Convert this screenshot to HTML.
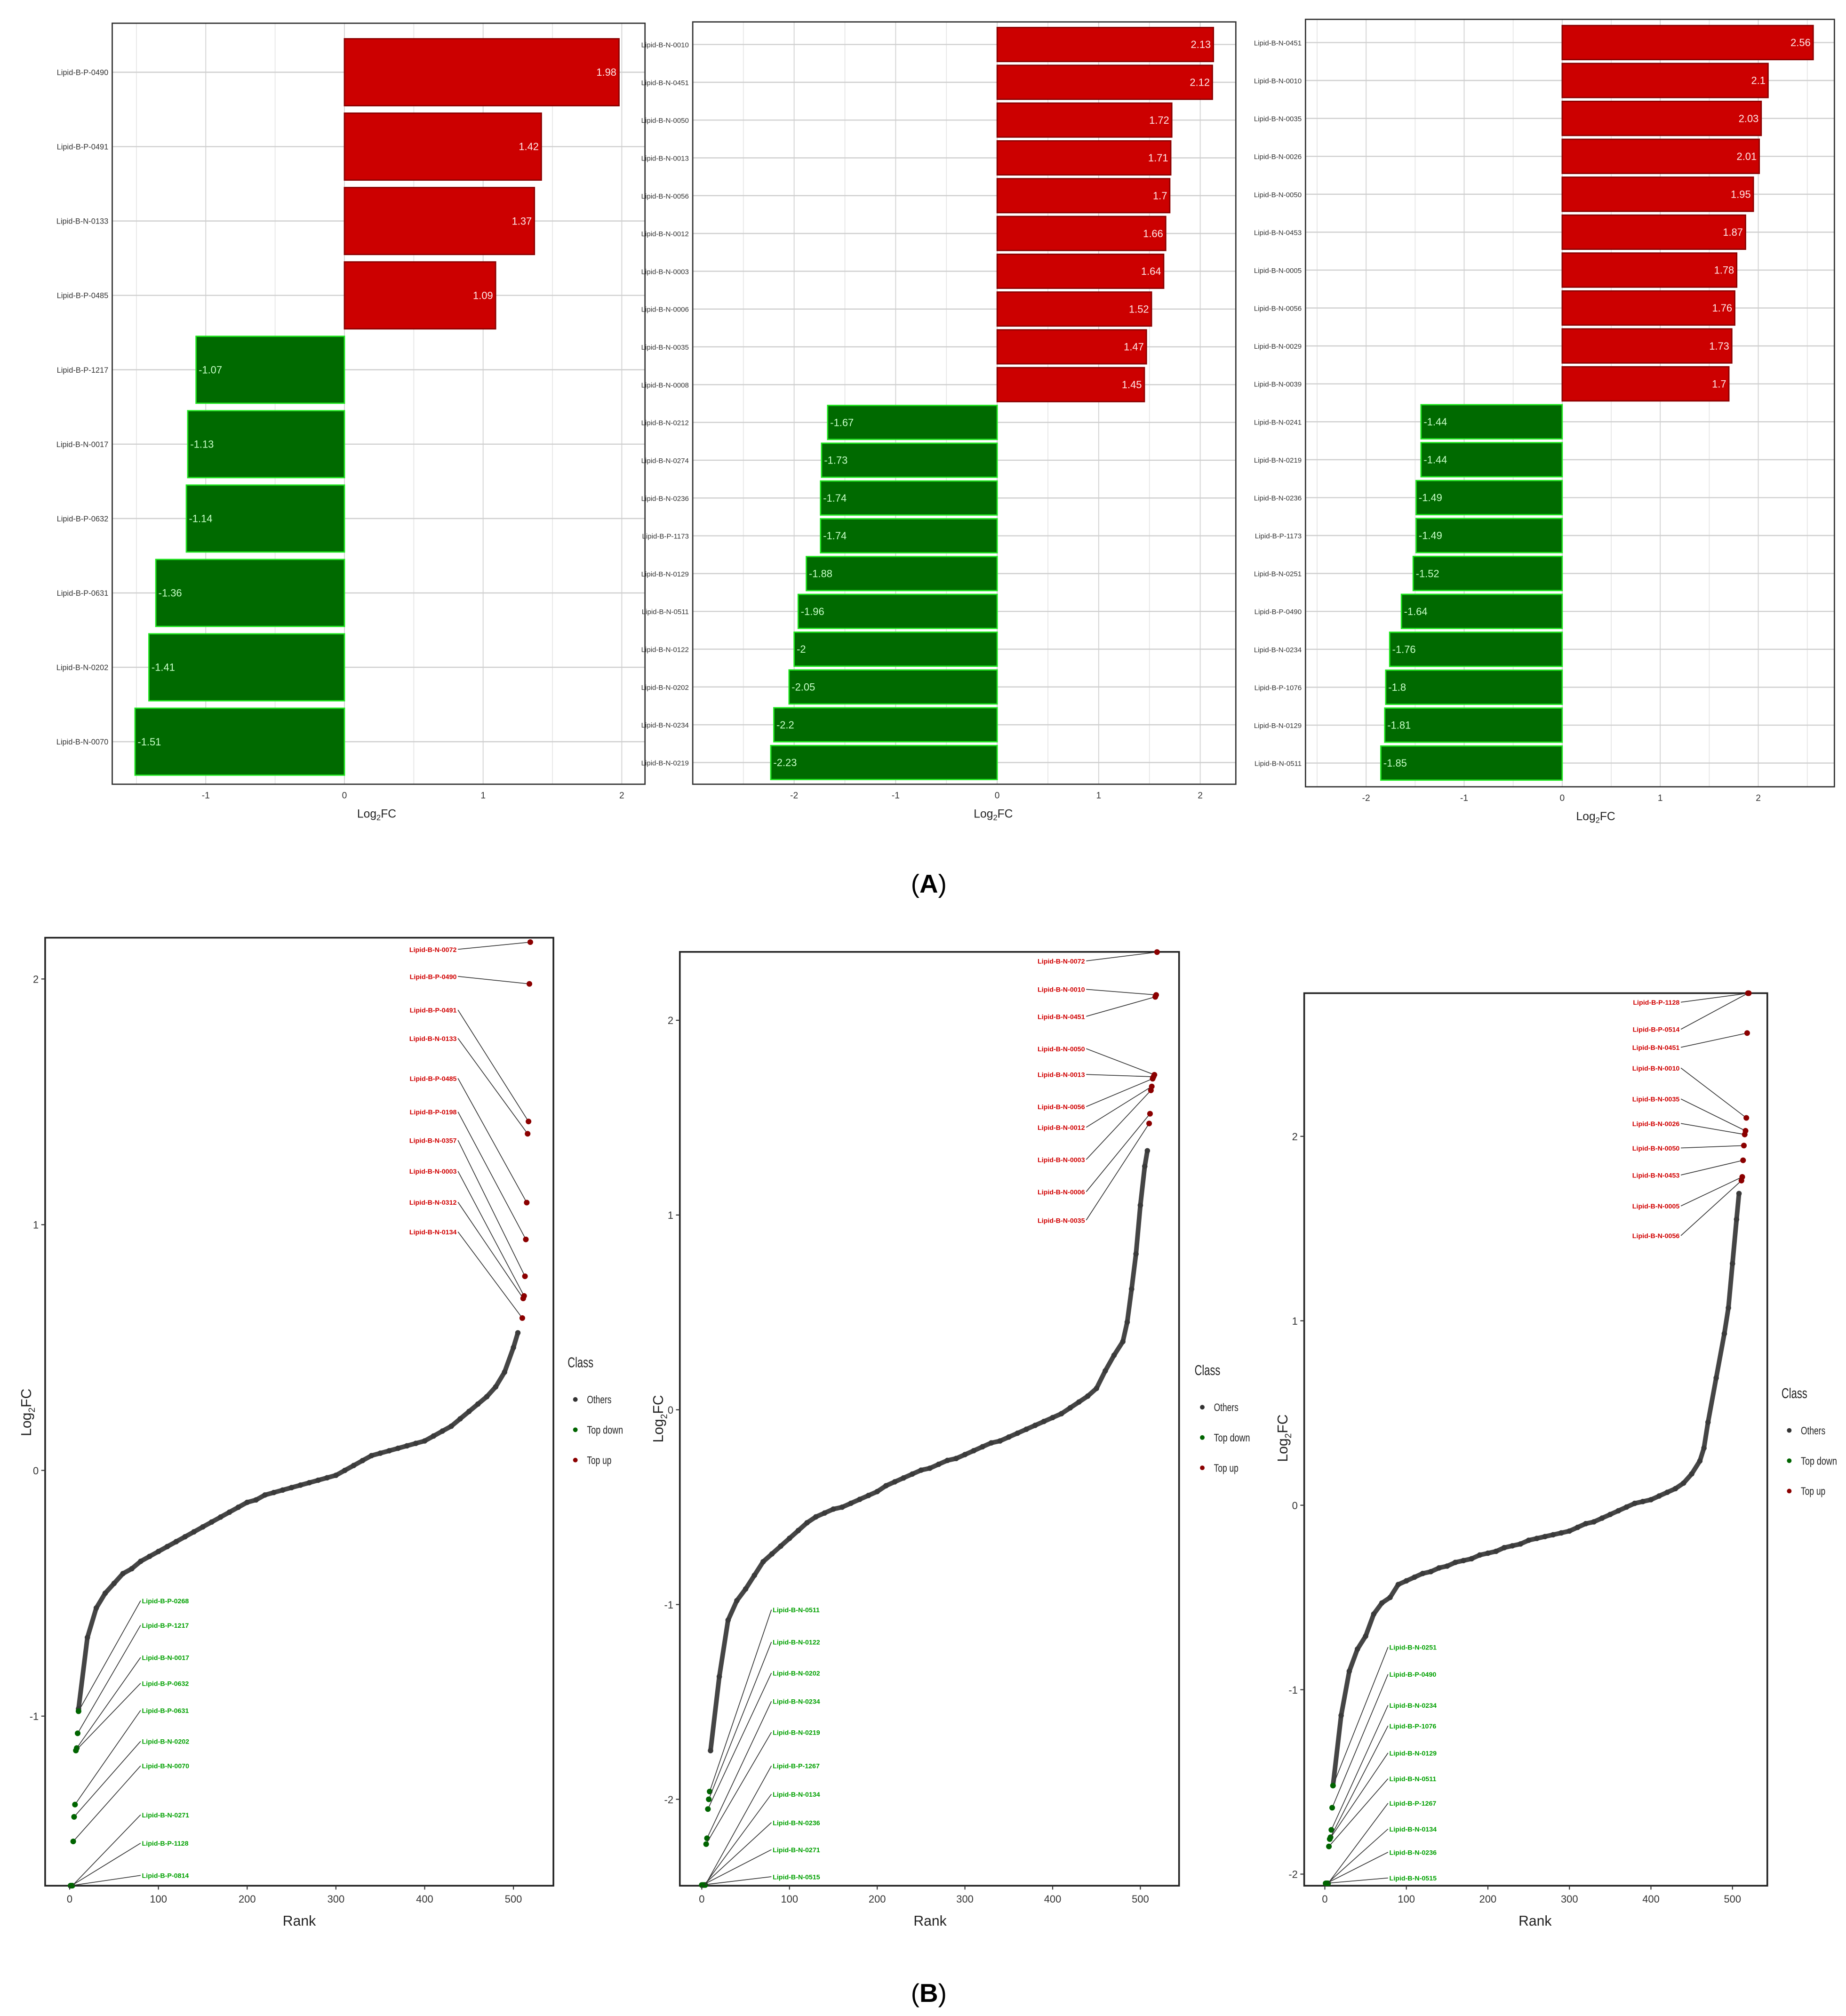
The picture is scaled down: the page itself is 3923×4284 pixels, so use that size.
<!DOCTYPE html>
<html><head><meta charset="utf-8">
<style>
html,body{margin:0;padding:0;background:#fff;}
svg{display:block;}
text{font-family:"Liberation Sans Narrow","Liberation Sans",sans-serif;}
</style></head>
<body>
<svg id="fig" xmlns="http://www.w3.org/2000/svg" width="3923" height="4284" viewBox="0 0 1431 1563" preserveAspectRatio="none">
<rect x="0" y="0" width="1431" height="1563" fill="#fff"/>
<text x="720" y="692" font-size="20" text-anchor="middle" font-family="Liberation Serif,serif">(<tspan font-weight="bold">A</tspan>)</text>
<text x="720" y="1552" font-size="20" text-anchor="middle" font-family="Liberation Serif,serif">(<tspan font-weight="bold">B</tspan>)</text>
</svg>
<script>
// ---------- Panel A data ----------
const a1Names=["Lipid-B-P-0490","Lipid-B-P-0491","Lipid-B-N-0133","Lipid-B-P-0485","Lipid-B-P-1217","Lipid-B-N-0017","Lipid-B-P-0632","Lipid-B-P-0631","Lipid-B-N-0202","Lipid-B-N-0070"];
const a1Values=[1.98,1.42,1.37,1.09,-1.07,-1.13,-1.14,-1.36,-1.41,-1.51];
const a1Ticks=[-1,0,1,2];
const a2Names=["Lipid-B-N-0010","Lipid-B-N-0451","Lipid-B-N-0050","Lipid-B-N-0013","Lipid-B-N-0056","Lipid-B-N-0012","Lipid-B-N-0003","Lipid-B-N-0006","Lipid-B-N-0035","Lipid-B-N-0008","Lipid-B-N-0212","Lipid-B-N-0274","Lipid-B-N-0236","Lipid-B-P-1173","Lipid-B-N-0129","Lipid-B-N-0511","Lipid-B-N-0122","Lipid-B-N-0202","Lipid-B-N-0234","Lipid-B-N-0219"];
const a2Values=[2.13,2.12,1.72,1.71,1.7,1.66,1.64,1.52,1.47,1.45,-1.67,-1.73,-1.74,-1.74,-1.88,-1.96,-2,-2.05,-2.2,-2.23];
const a2Ticks=[-2,-1,0,1,2];
const a3Names=["Lipid-B-N-0451","Lipid-B-N-0010","Lipid-B-N-0035","Lipid-B-N-0026","Lipid-B-N-0050","Lipid-B-N-0453","Lipid-B-N-0005","Lipid-B-N-0056","Lipid-B-N-0029","Lipid-B-N-0039","Lipid-B-N-0241","Lipid-B-N-0219","Lipid-B-N-0236","Lipid-B-P-1173","Lipid-B-N-0251","Lipid-B-P-0490","Lipid-B-N-0234","Lipid-B-P-1076","Lipid-B-N-0129","Lipid-B-N-0511"];
const a3Values=[2.56,2.1,2.03,2.01,1.95,1.87,1.78,1.76,1.73,1.7,-1.44,-1.44,-1.49,-1.49,-1.52,-1.64,-1.76,-1.8,-1.81,-1.85];
const a3Ticks=[-2,-1,0,1,2];

// ---------- Panel B data ----------
const b1OthersRank=[10,20,30,40,50,60,70,80,90,100,110,120,130,140,150,160,170,180,190,200,210,220,230,240,250,260,270,280,290,300,310,320,330,340,350,360,370,380,390,400,410,420,430,440,450,460,470,480,490,500,505];
const b1OthersValue=[-0.97,-0.68,-0.56,-0.5,-0.46,-0.42,-0.4,-0.37,-0.35,-0.33,-0.31,-0.29,-0.27,-0.25,-0.23,-0.21,-0.19,-0.17,-0.15,-0.13,-0.12,-0.1,-0.09,-0.08,-0.07,-0.06,-0.05,-0.04,-0.03,-0.02,0.0,0.02,0.04,0.06,0.07,0.08,0.09,0.1,0.11,0.12,0.14,0.16,0.18,0.21,0.24,0.27,0.3,0.34,0.4,0.5,0.56];
const b1UpNames=["Lipid-B-N-0072","Lipid-B-P-0490","Lipid-B-P-0491","Lipid-B-N-0133","Lipid-B-P-0485","Lipid-B-P-0198","Lipid-B-N-0357","Lipid-B-N-0003","Lipid-B-N-0312","Lipid-B-N-0134"];
const b1UpValue=[2.15,1.98,1.42,1.37,1.09,0.94,0.79,0.71,0.7,0.62];
const b1UpRank=[519,518,517,516,515,514,513,512,511,510];
const b1DownNames=["Lipid-B-P-0268","Lipid-B-P-1217","Lipid-B-N-0017","Lipid-B-P-0632","Lipid-B-P-0631","Lipid-B-N-0202","Lipid-B-N-0070","Lipid-B-N-0271","Lipid-B-P-1128","Lipid-B-P-0814"];
const b1DownValue=[-0.98,-1.07,-1.13,-1.14,-1.36,-1.41,-1.51,-1.69,-1.69,-1.69];
const b1DownRank=[10,9,8,7,6,5,4,3,2,1];

const b2OthersRank=[10,20,30,40,50,60,70,80,90,100,110,120,130,140,150,160,170,180,190,200,210,220,230,240,250,260,270,280,290,300,310,320,330,340,350,360,370,380,390,400,410,420,430,440,450,460,470,480,485,490,495,500,505,508];
const b2OthersValue=[-1.75,-1.37,-1.08,-0.98,-0.92,-0.85,-0.78,-0.74,-0.7,-0.66,-0.62,-0.58,-0.55,-0.53,-0.51,-0.5,-0.48,-0.46,-0.44,-0.42,-0.39,-0.37,-0.35,-0.33,-0.31,-0.3,-0.28,-0.26,-0.25,-0.23,-0.21,-0.19,-0.17,-0.16,-0.14,-0.12,-0.1,-0.08,-0.06,-0.04,-0.02,0.01,0.04,0.07,0.11,0.2,0.28,0.35,0.45,0.62,0.8,1.05,1.25,1.33];
const b2UpNames=["Lipid-B-N-0072","Lipid-B-N-0010","Lipid-B-N-0451","Lipid-B-N-0050","Lipid-B-N-0013","Lipid-B-N-0056","Lipid-B-N-0012","Lipid-B-N-0003","Lipid-B-N-0006","Lipid-B-N-0035"];
const b2UpValue=[2.35,2.13,2.12,1.72,1.71,1.7,1.66,1.64,1.52,1.47];
const b2UpRank=[519,518,517,516,515,514,513,512,511,510];
const b2DownNames=["Lipid-B-N-0511","Lipid-B-N-0122","Lipid-B-N-0202","Lipid-B-N-0234","Lipid-B-N-0219","Lipid-B-P-1267","Lipid-B-N-0134","Lipid-B-N-0236","Lipid-B-N-0271","Lipid-B-N-0515"];
const b2DownValue=[-1.96,-2.0,-2.05,-2.2,-2.23,-2.44,-2.44,-2.44,-2.44,-2.44];
const b2DownRank=[9,8,7,6,5,4,3,2,1,0];

const b3OthersRank=[10,20,30,40,50,60,70,80,90,100,110,120,130,140,150,160,170,180,190,200,210,220,230,240,250,260,270,280,290,300,310,320,330,340,350,360,370,380,390,400,410,420,430,440,450,460,465,470,480,490,495,500,505,508];
const b3OthersValue=[-1.52,-1.14,-0.9,-0.78,-0.71,-0.59,-0.53,-0.5,-0.43,-0.41,-0.39,-0.37,-0.36,-0.34,-0.33,-0.31,-0.3,-0.29,-0.27,-0.26,-0.25,-0.23,-0.22,-0.21,-0.19,-0.18,-0.17,-0.16,-0.15,-0.14,-0.12,-0.1,-0.09,-0.07,-0.05,-0.03,-0.01,0.01,0.02,0.03,0.05,0.07,0.09,0.12,0.17,0.24,0.31,0.45,0.69,0.93,1.07,1.31,1.55,1.69];
const b3UpNames=["Lipid-B-P-1128","Lipid-B-P-0514","Lipid-B-N-0451","Lipid-B-N-0010","Lipid-B-N-0035","Lipid-B-N-0026","Lipid-B-N-0050","Lipid-B-N-0453","Lipid-B-N-0005","Lipid-B-N-0056"];
const b3UpValue=[2.79,2.79,2.56,2.1,2.03,2.01,1.95,1.87,1.78,1.76];
const b3UpRank=[520,519,518,517,516,515,514,513,512,511];
const b3DownNames=["Lipid-B-N-0251","Lipid-B-P-0490","Lipid-B-N-0234","Lipid-B-P-1076","Lipid-B-N-0129","Lipid-B-N-0511","Lipid-B-P-1267","Lipid-B-N-0134","Lipid-B-N-0236","Lipid-B-N-0515"];
const b3DownValue=[-1.52,-1.64,-1.76,-1.8,-1.81,-1.85,-2.05,-2.05,-2.05,-2.05];
const b3DownRank=[10,9,8,7,6,5,4,3,2,1];
const bXTicks=[0,100,200,300,400,500];

const NS="http://www.w3.org/2000/svg";
const svg=document.getElementById('fig');
function mk(tag,attrs,parent){const e=document.createElementNS(NS,tag);for(const k in attrs)e.setAttribute(k,attrs[k]);(parent||svg).appendChild(e);return e;}

// ---------- Bar chart ----------
function barChart(id,L,names,values,ticks){
  const g=mk('g',{});
  
  
  const xs=v=>L.zero+v*L.unit;
  const rowY=i=>L.row0+i*L.step;
  for(let t=ticks[0]-0.5;t<=ticks[ticks.length-1]+0.5;t+=0.5){
    const x=xs(t); if(x<L.x0||x>L.x1)continue;
    const gl=mk('line',{x1:x,x2:x,y1:L.y0,y2:L.y1,stroke:Number.isInteger(t)?'#d4d4d4':'#e8e8e8','stroke-width':0.7},g);
    
    
  }
  names.forEach((n,i)=>{
    const hl=mk('line',{x1:L.x0,x2:L.x1,y1:rowY(i),y2:rowY(i),stroke:'#cfcfcf','stroke-width':0.9},g);
    
    
  });
  names.forEach((n,i)=>{
    const v=values[i],y=rowY(i),h=L.step*L.bh;
    const x=Math.min(xs(0),xs(v)),w=Math.abs(xs(v)-xs(0));
    const up=v>0;
    const r=mk('rect',{x:x,y:y-h/2,width:w,height:h,fill:up?'#cc0000':'#006a00',stroke:up?'#8a0000':'#1ee61e','stroke-width':1},g);
    
    
    const vt=mk('text',{x:up?xs(v)-2:xs(v)+2,y:y+L.fs*0.35,'font-size':L.fs,fill:up?'#ffe8e8':'#c8ffc8','text-anchor':up?'end':'start'},g);
    vt.textContent=String(v);
    
    
    const lt=mk('text',{x:L.x0-3,y:y+2.2,'font-size':L.lfs,fill:'#333','text-anchor':'end'},g);
    lt.textContent=n;
    
    
  });
  const frame=mk('rect',{x:L.x0,y:L.y0,width:L.x1-L.x0,height:L.y1-L.y0,fill:'none',stroke:'#333','stroke-width':1},g);
  
  
  ticks.forEach(t=>{
    const tt=mk('text',{x:xs(t),y:L.y1+11,'font-size':7,fill:'#333','text-anchor':'middle'},g);
    tt.textContent=String(t);
    
    
  });
  const at=mk('text',{x:L.titleX,y:L.y1+26,'font-size':9,fill:'#222','text-anchor':'middle'},g);
  at.innerHTML='Log<tspan font-size="6" dy="2">2</tspan><tspan dy="-2">FC</tspan>';
  
  
}
barChart('a1',{x0:87,x1:500,y0:18,y1:608,zero:267,unit:107.5,row0:56,step:57.67,bh:0.9,fs:8,lfs:6,titleX:292},a1Names,a1Values,a1Ticks);
barChart('a2',{x0:537,x1:958,y0:17,y1:608,zero:773,unit:78.7,row0:34.5,step:29.3,bh:0.9,fs:8,lfs:5.5,titleX:770},a2Names,a2Values,a2Ticks);
barChart('a3',{x0:1012,x1:1422,y0:15,y1:610,zero:1211,unit:76,row0:33,step:29.4,bh:0.9,fs:8,lfs:5.5,titleX:1237},a3Names,a3Values,a3Ticks);

// ---------- Rank scatter ----------
function rankChart(id,L,oR,oV,upN,upV,upR,upLY,dnN,dnV,dnR,dnLY,yTicks){
  const g=mk('g',{});
  
  
  const xs=r=>L.x0r+r*L.rk;
  const ys=v=>L.y0v-v*L.unit;
  const frame=mk('rect',{x:L.x0,y:L.y0,width:L.x1-L.x0,height:L.y1-L.y0,fill:'none',stroke:'#222','stroke-width':1.3},g);
  
  
  const pts=oR.map((r,i)=>xs(r)+','+ys(oV[i])).join(' ');
  const pl=mk('polyline',{points:pts,fill:'none',stroke:'#454545','stroke-width':3.6,'stroke-linecap':'round','stroke-linejoin':'round'},g);
  
  
  oR.forEach((r,i)=>{
    const c=mk('circle',{cx:xs(r),cy:ys(oV[i]),r:2.1,fill:'#3a3a3a'},g);
    
    
  });
  function labelled(names,vals,ranks,ly,color,lx,anchor,kind){
    names.forEach((n,i)=>{
      const px=xs(ranks[i]),py=Math.max(L.y0,Math.min(L.y1,ys(vals[i])));
      const ln=mk('line',{x1:lx,y1:ly[i],x2:px,y2:py,stroke:'#333','stroke-width':0.6},g);
      
      
      const c=mk('circle',{cx:px,cy:py,r:2.2,fill:color},g);
      
      
      const t=mk('text',{x:anchor==='end'?lx-1:lx+1,y:ly[i]+2,'font-size':5.2,fill:kind==='top-up'?'#d00000':'#00a000','text-anchor':anchor,'font-weight':'bold'},g);
      t.textContent=n;
      
      
    });
  }
  labelled(upN,upV,upR,upLY,'#8b0000',L.upLX,'end','top-up');
  labelled(dnN,dnV,dnR,dnLY,'#006400',L.dnLX,'start','top-down');
  bXTicks.forEach(t=>{
    const tk=mk('line',{x1:xs(t),x2:xs(t),y1:L.y1,y2:L.y1+3,stroke:'#333','stroke-width':0.8},g);
    
    
    const tt=mk('text',{x:xs(t),y:L.y1+13,'font-size':8,fill:'#333','text-anchor':'middle'},g);
    tt.textContent=String(t);
    
    
  });
  yTicks.forEach(t=>{
    const tk=mk('line',{x1:L.x0-3,x2:L.x0,y1:ys(t),y2:ys(t),stroke:'#333','stroke-width':0.8},g);
    
    
    const tt=mk('text',{x:L.x0-5,y:ys(t)+3,'font-size':8,fill:'#333','text-anchor':'end'},g);
    tt.textContent=String(t);
    
    
  });
  const xt=mk('text',{x:L.rankX,y:L.y1+31,'font-size':11,fill:'#222','text-anchor':'middle'},g);
  xt.textContent='Rank';
  
  
  const yt=mk('text',{x:0,y:0,'font-size':11,fill:'#222','text-anchor':'middle',transform:'translate('+L.ytX+','+L.ytY+') rotate(-90)'},g);
  yt.innerHTML='Log<tspan font-size="7" dy="3">2</tspan><tspan dy="-3">FC</tspan>';
  
  
  const lg=mk('g',{},g);
  
  
  const lt=mk('text',{x:L.lgX-6,y:L.lgY,'font-size':11,fill:'#222','textLength':20,'lengthAdjust':'spacingAndGlyphs'},lg);
  lt.textContent='Class';
  
  
  [['Others','#333',19],['Top down','#006400',28],['Top up','#8b0000',19]].forEach((e,i)=>{
    const yy=L.lgY+25+i*23.5;
    const c=mk('circle',{cx:L.lgX,cy:yy,r:1.8,fill:e[1]},lg);
    
    
    const t=mk('text',{x:L.lgX+9,y:yy+3,'font-size':8.5,fill:'#222','textLength':e[2],'lengthAdjust':'spacingAndGlyphs'},lg);
    t.textContent=e[0];
    
    
  });
}
rankChart('b1',{x0:35,x1:429,y0:727,y1:1462,x0r:54,rk:0.688,y0v:1140,unit:190.5,upLX:355,dnLX:109,rankX:232,ytX:24,ytY:1095,lgX:446,lgY:1060},
  b1OthersRank,b1OthersValue,b1UpNames,b1UpValue,b1UpRank,[736,757,783,805,836,862,884,908,932,955],
  b1DownNames,b1DownValue,b1DownRank,[1241,1260,1285,1305,1326,1350,1369,1407,1429,1454],[-1,0,1,2]);
rankChart('b2',{x0:527,x1:914,y0:738,y1:1462,x0r:544,rk:0.68,y0v:1093,unit:151,upLX:842,dnLX:598,rankX:721,ytX:514,ytY:1100,lgX:932,lgY:1066},
  b2OthersRank,b2OthersValue,b2UpNames,b2UpValue,b2UpRank,[745,767,788,813,833,858,874,899,924,946],
  b2DownNames,b2DownValue,b2DownRank,[1248,1273,1297,1319,1343,1369,1391,1413,1434,1455],[-2,-1,0,1,2]);
rankChart('b3',{x0:1011,x1:1370,y0:770,y1:1462,x0r:1027,rk:0.632,y0v:1167,unit:143,upLX:1303,dnLX:1076,rankX:1190,ytX:998,ytY:1115,lgX:1387,lgY:1084},
  b3OthersRank,b3OthersValue,b3UpNames,b3UpValue,b3UpRank,[777,798,812,828,852,871,890,911,935,958],
  b3DownNames,b3DownValue,b3DownRank,[1277,1298,1322,1338,1359,1379,1398,1418,1436,1456],[-2,-1,0,1,2]);
</script>
</body></html>
